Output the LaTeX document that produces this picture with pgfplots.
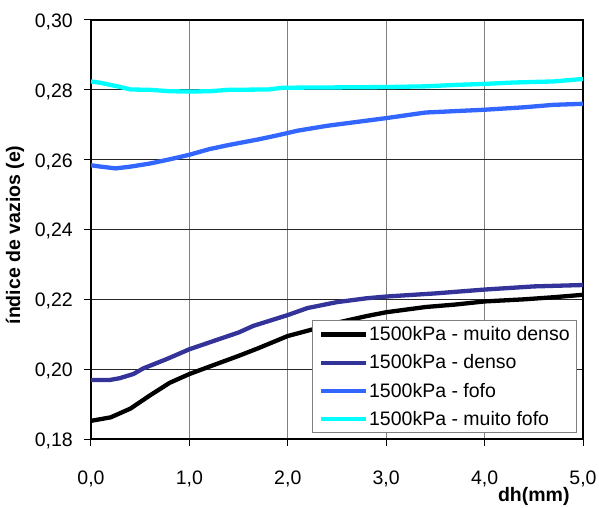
\documentclass[border=0pt]{standalone}
\usepackage{fontspec}
\setmainfont{Liberation Sans}
\usepackage{pgfplots}
\pgfplotsset{compat=1.18}
\definecolor{cDenso}{HTML}{333399}
\definecolor{cFofo}{HTML}{3366FF}
\definecolor{cMFofo}{HTML}{00FFFF}
\newcommand{\fs}{\fontsize{19.5}{23}\selectfont}
\begin{document}
\begin{tikzpicture}
\useasboundingbox (-91pt,-69pt) rectangle (508pt,439pt);
\begin{axis}[
  at={(0,0)}, anchor=south west,
  scale only axis, width=492pt, height=419pt,
  xmin=0, xmax=5, ymin=0.18, ymax=0.30,
  xtick={0,1,2,3,4,5},
  ytick={0.18,0.20,0.22,0.24,0.26,0.28,0.30},
  /pgf/number format/assume math mode=true,
  x tick label style={/pgf/number format/fixed, /pgf/number format/fixed zerofill, /pgf/number format/precision=1, /pgf/number format/use comma,
    font=\fs, inner sep=0pt, anchor=base, yshift=-38pt},
  y tick label style={/pgf/number format/fixed, /pgf/number format/fixed zerofill, /pgf/number format/precision=2, /pgf/number format/use comma,
    font=\fs, inner sep=0pt, anchor=base east, xshift=-11pt, yshift=-7.5pt},
  scaled y ticks=false,
  tick pos=left, tick align=outside,
  major tick length=7pt,
  tick style={black, line width=1pt},
  axis line style={black, line width=2.5pt},
  xmajorgrids, ymajorgrids,
  x grid style={gray, line width=1.3pt},
  y grid style={black!85, line width=0.8pt},
  xlabel={\bfseries dh(mm)},
  ylabel={\bfseries índice de vazios (e)},
  x label style={font=\fs, at={(axis description cs:0.9,-0.136)}, anchor=center, inner sep=0pt},
  y label style={font=\fs, at={(axis description cs:-0.1545,0.487)}, anchor=center, inner sep=0pt},
  legend cell align=left,
  legend image code/.code={\draw[#1] (0pt,0pt) -- (45pt,0pt);},
  legend style={at={(rel axis cs:0.988,0.014)}, anchor=south east, draw=gray, line width=0.8pt,
    font=\fs, inner xsep=6pt, inner ysep=5pt, row sep=10.5pt, fill=white,
    nodes={inner sep=1pt}},
  every axis plot/.append style={line width=4.3pt},
]
\addplot[black] coordinates {
(0.00,0.1852) (0.20,0.1862) (0.40,0.1887) (0.60,0.1925) (0.80,0.1961)
(1.00,0.1986) (1.20,0.2007) (1.50,0.2038) (1.70,0.2060) (2.00,0.2095)
(2.20,0.2110) (2.50,0.2133) (2.80,0.2152) (3.00,0.2163) (3.40,0.2178)
(3.70,0.2185) (4.00,0.2194) (4.40,0.2200) (4.70,0.2206) (5.00,0.2213)};
\addlegendentry{1500kPa - muito denso}
\addplot[cDenso] coordinates {
(0.00,0.1969) (0.19,0.1969) (0.29,0.1974) (0.43,0.1986) (0.53,0.2002)
(0.77,0.2029) (1.00,0.2057) (1.28,0.2084) (1.50,0.2105) (1.65,0.2124)
(2.00,0.2155) (2.20,0.2175) (2.50,0.2192) (2.80,0.2203) (3.00,0.2208)
(3.50,0.2217) (4.00,0.2228) (4.50,0.2237) (5.00,0.2241)};
\addlegendentry{1500kPa - denso}
\addplot[cFofo] coordinates {
(0.00,0.2584) (0.10,0.2580) (0.25,0.2575) (0.40,0.2580) (0.60,0.2589)
(0.80,0.2601) (1.00,0.2614) (1.20,0.2630) (1.40,0.2642) (1.70,0.2658)
(1.90,0.2670) (2.10,0.2683) (2.40,0.2697) (2.70,0.2708) (3.00,0.2719)
(3.40,0.2735) (4.00,0.2743) (4.40,0.2750) (4.70,0.2757) (5.00,0.2760)};
\addlegendentry{1500kPa - fofo}
\addplot[cMFofo] coordinates {
(0.00,0.2824) (0.10,0.2820) (0.20,0.2814) (0.30,0.2808) (0.40,0.2801)
(0.60,0.2800) (0.80,0.2796) (1.00,0.2795) (1.20,0.2796) (1.40,0.2800)
(1.80,0.2801) (1.95,0.2806) (2.50,0.2807) (3.00,0.2808) (3.40,0.2810)
(3.70,0.2814) (4.00,0.2817) (4.30,0.2821) (4.70,0.2824) (5.00,0.2831)};
\addlegendentry{1500kPa - muito fofo}
\end{axis}
\end{tikzpicture}
\end{document}
